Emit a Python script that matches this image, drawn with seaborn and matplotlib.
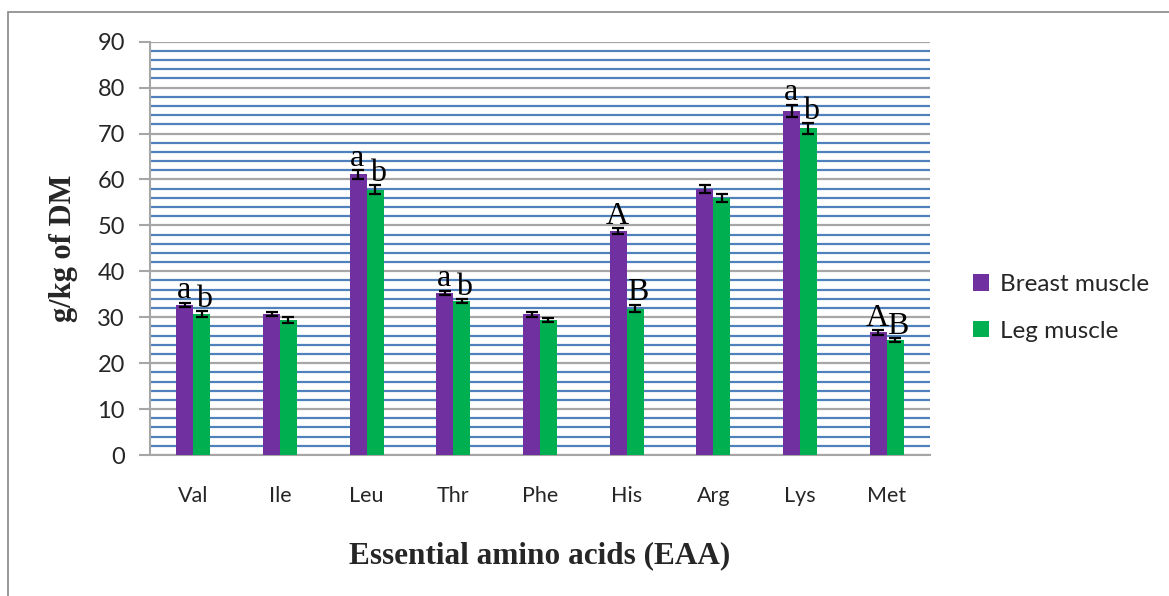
import numpy as np
import pandas as pd
import matplotlib
matplotlib.use("Agg")
import matplotlib.pyplot as plt
from matplotlib.ticker import MultipleLocator
from matplotlib.patches import Rectangle
import seaborn as sns

categories = ["Val", "Ile", "Leu", "Thr", "Phe", "His", "Arg", "Lys", "Met"]
series = ["Breast muscle", "Leg muscle"]
breast = [32.7, 30.7, 61.1, 35.3, 30.6, 48.8, 57.9, 75.0, 26.7]
leg = [30.7, 29.4, 57.8, 33.5, 29.4, 31.9, 55.9, 71.1, 25.0]
breast_err = [0.5, 0.5, 1.0, 0.5, 0.5, 0.65, 0.9, 1.3, 0.5]
leg_err = [0.6, 0.6, 1.0, 0.5, 0.45, 0.85, 0.9, 1.2, 0.45]
breast_letters = ["a", "", "a", "a", "", "A", "", "a", "A"]
leg_letters = ["b", "", "b", "b", "", "B", "", "b", "B"]
colors = ["#7030A0", "#00B050"]

df = pd.DataFrame({
    "aa": categories * 2,
    "tissue": [series[0]] * len(categories) + [series[1]] * len(categories),
    "value": breast + leg,
})

sns.set_theme(style="white")
plt.rcParams['font.family'] = ['Lato', 'DejaVu Sans']

fig = plt.figure(figsize=(11.69, 5.96), dpi=100)
ax = fig.add_axes([150 / 1169, (596 - 455) / 596, 780 / 1169, 413.3 / 596])

sns.barplot(data=df, x="aa", y="value", hue="tissue", order=categories,
            hue_order=series, palette=colors, width=0.39, errorbar=None,
            saturation=1, ax=ax, zorder=3, linewidth=0)

# error bars and letters using bar positions from seaborn
containers = ax.containers
for k, (cont, vals, errs, letters) in enumerate(zip(containers, [breast, leg],
                                                    [breast_err, leg_err],
                                                    [breast_letters, leg_letters])):
    xs = [p.get_x() + p.get_width() / 2 for p in cont.patches]
    ax.errorbar(xs, vals, yerr=errs, fmt="none", ecolor="black", elinewidth=1.6,
                capsize=4, capthick=1.6, zorder=4)
    for x, v, e, t in zip(xs, vals, errs, letters):
        if t:
            ax.text(x + (0.03 if k == 1 else -0.01), v + e + 0.9, t, ha="center",
                    va="baseline", fontsize=23, family="Liberation Serif",
                    color="black", zorder=5)

ax.set_xlim(-0.5, 8.5)
ax.set_ylim(0, 90)
ax.yaxis.set_major_locator(MultipleLocator(10))
ax.yaxis.set_minor_locator(MultipleLocator(2))
ax.grid(False)
ax.grid(which="major", axis="y", color="#A6A6A6", linewidth=1.6, zorder=1)
ax.grid(which="minor", axis="y", color="#4F81BD", linewidth=1.6, zorder=1)
ax.set_axisbelow(True)

for s in ["top", "right"]:
    ax.spines[s].set_visible(False)
for s in ["left", "bottom"]:
    ax.spines[s].set_color("#A6A6A6")
    ax.spines[s].set_linewidth(1.5)

ax.tick_params(axis="y", which="major", left=True, length=8, width=1.5, color="#A6A6A6",
               labelsize=17, pad=10)
ax.tick_params(axis="y", which="minor", left=False)
ax.tick_params(axis="x", bottom=False, labelsize=15.5, pad=16)

ax.set_xlabel("Essential amino acids (EAA)", fontsize=22.5, fontweight="bold",
              family="Liberation Serif", labelpad=26)
ax.set_ylabel("g/kg of DM", fontsize=22, fontweight="bold",
              family="Liberation Serif", labelpad=14)

leg_ = ax.legend(loc="center left", bbox_to_anchor=(1.027, 0.356), frameon=False,
                 fontsize=17.5, handlelength=0.65, handleheight=0.65, handletextpad=0.45,
                 labelspacing=1.05)
leg_.set_title(None)

fig.patches.append(Rectangle((8 / 1169, -0.1), 1.2, 1.1 - 12 / 596,
                             transform=fig.transFigure, fill=False,
                             edgecolor="#888888", linewidth=1.2))

fig.savefig("out.png", dpi=100)
